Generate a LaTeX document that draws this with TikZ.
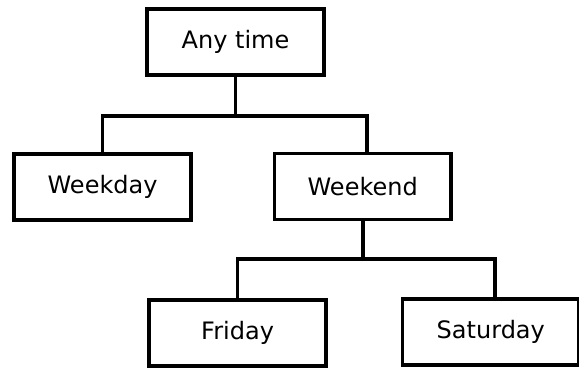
\documentclass[tikz,border=0pt]{standalone}
\usepackage{fontspec}
\setmainfont{DejaVu Sans}
\usetikzlibrary{calc}
\begin{document}
\begin{tikzpicture}[x=0.75pt,y=-0.75pt,
  box/.style={draw=black,line width=2.8pt,fill=white,rectangle,
    minimum width=132.5pt,minimum height=49.5pt,inner sep=0pt,
    font=\fontsize{18}{20}\selectfont},
  conn/.style={draw=black,line width=2.8pt}]
\useasboundingbox (0,0) rectangle (579,369);
\node[box] (any) at (235.5,42.3) {Any time};
\node[box] (weekday) at (102.6,186.8) {Weekday};
\node[box] (weekend) at (362.7,186.5) {Weekend};
\node[box] (friday) at (237.6,333.2) {Friday};
\node[box] (saturday) at (490.8,331.7) {Saturday};
\coordinate (j1) at ($(any.south)+(0,38.5)$);
\coordinate (j2) at ($(weekend.south)+(0,37.5)$);
\draw[conn] (any.south) -- (j1);
\draw[conn] (j1) -| (weekday.north);
\draw[conn] (j1) -| ([xshift=3.4pt]weekend.north);
\draw[conn] (weekend.south) -- (j2);
\draw[conn] (j2) -| (friday.north);
\draw[conn] (j2) -| ([xshift=3.1pt]saturday.north);
\end{tikzpicture}
\end{document}
